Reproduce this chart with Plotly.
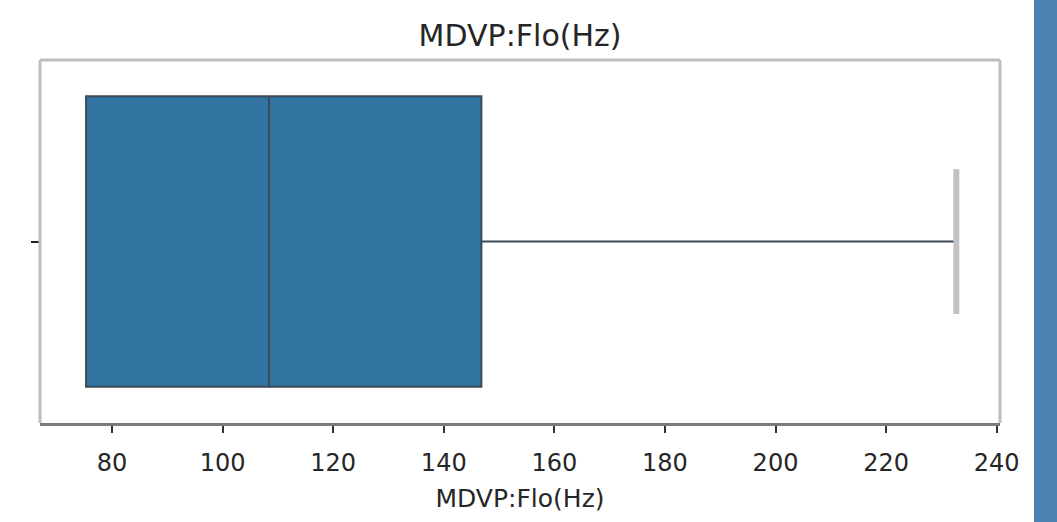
import plotly.graph_objects as go

# Five-number summary of MDVP:Flo(Hz)
feature = "MDVP:Flo(Hz)"
q1 = [75.3]
median = [108.4]
q3 = [146.8]
lower_fence = [75.3]
upper_fence = [232.7]
positions = [0]

tick_values = [80, 100, 120, 140, 160, 180, 200, 220, 240]
x_limits = [66.97, 240.6]

BOX_FILL = "#3274a1"
BOX_EDGE = "#3d4a57"
CAP_GREY = "#c2c2c2"
FRAME_GREY = "#bdbdbd"

fig = go.Figure()

fig.add_trace(go.Box(
    y=positions,
    q1=q1,
    median=median,
    q3=q3,
    lowerfence=lower_fence,
    upperfence=upper_fence,
    orientation="h",
    width=0.8,
    whiskerwidth=0,
    fillcolor=BOX_FILL,
    line=dict(color=BOX_EDGE, width=2),
    boxpoints=False,
    hoverinfo="skip",
    showlegend=False,
))

# whisker cap at the upper fence, half the box width
fig.add_trace(go.Scatter(
    x=[upper_fence[0], upper_fence[0]],
    y=[positions[0] - 0.2, positions[0] + 0.2],
    mode="lines",
    line=dict(color=CAP_GREY, width=6),
    hoverinfo="skip",
    showlegend=False,
))

fig.update_layout(
    width=1057,
    height=522,
    margin=dict(l=40, r=57, t=60, b=99),
    paper_bgcolor="white",
    plot_bgcolor="white",
    font=dict(family="DejaVu Sans", color="#262626"),
    title=dict(
        text=feature,
        x=0.492, xanchor="center",
        y=1 - 35 / 522, yanchor="middle", yref="container",
        font=dict(size=30, color="#262626"),
    ),
    xaxis=dict(
        range=x_limits,
        tickvals=tick_values,
        ticks="outside",
        ticklen=7,
        tickwidth=2,
        tickcolor="#333333",
        tickfont=dict(size=24, color="#262626"),
        ticklabelstandoff=9,
        showgrid=False,
        zeroline=False,
        showline=True,
        linecolor="#7a7a7a",
        linewidth=3,
        title=dict(text=feature, font=dict(size=25, color="#262626"), standoff=14),
    ),
    yaxis=dict(
        range=[0.5, -0.5],
        tickvals=positions,
        ticktext=[" "],
        ticks="outside",
        ticklen=8,
        tickwidth=2,
        tickcolor="#222222",
        showgrid=False,
        zeroline=False,
        showline=False,
    ),
    shapes=[
        # light frame on left, top and right of the plot area
        dict(type="line", xref="paper", yref="paper", x0=0, x1=0, y0=0, y1=1,
             line=dict(color=FRAME_GREY, width=3)),
        dict(type="line", xref="paper", yref="paper", x0=0, x1=1, y0=1, y1=1,
             line=dict(color=FRAME_GREY, width=3)),
        dict(type="line", xref="paper", yref="paper", x0=1, x1=1, y0=0, y1=1,
             line=dict(color=FRAME_GREY, width=3)),
        # sidebar strip at the right edge of the page
        dict(type="rect", xref="paper", yref="paper",
             x0=(1034 - 40) / 960, x1=(1060 - 40) / 960,
             y0=-102 / 363, y1=1 + 63 / 363,
             fillcolor="#4a80b2", line=dict(width=0), layer="above"),
    ],
)

fig.write_html("out.html")
